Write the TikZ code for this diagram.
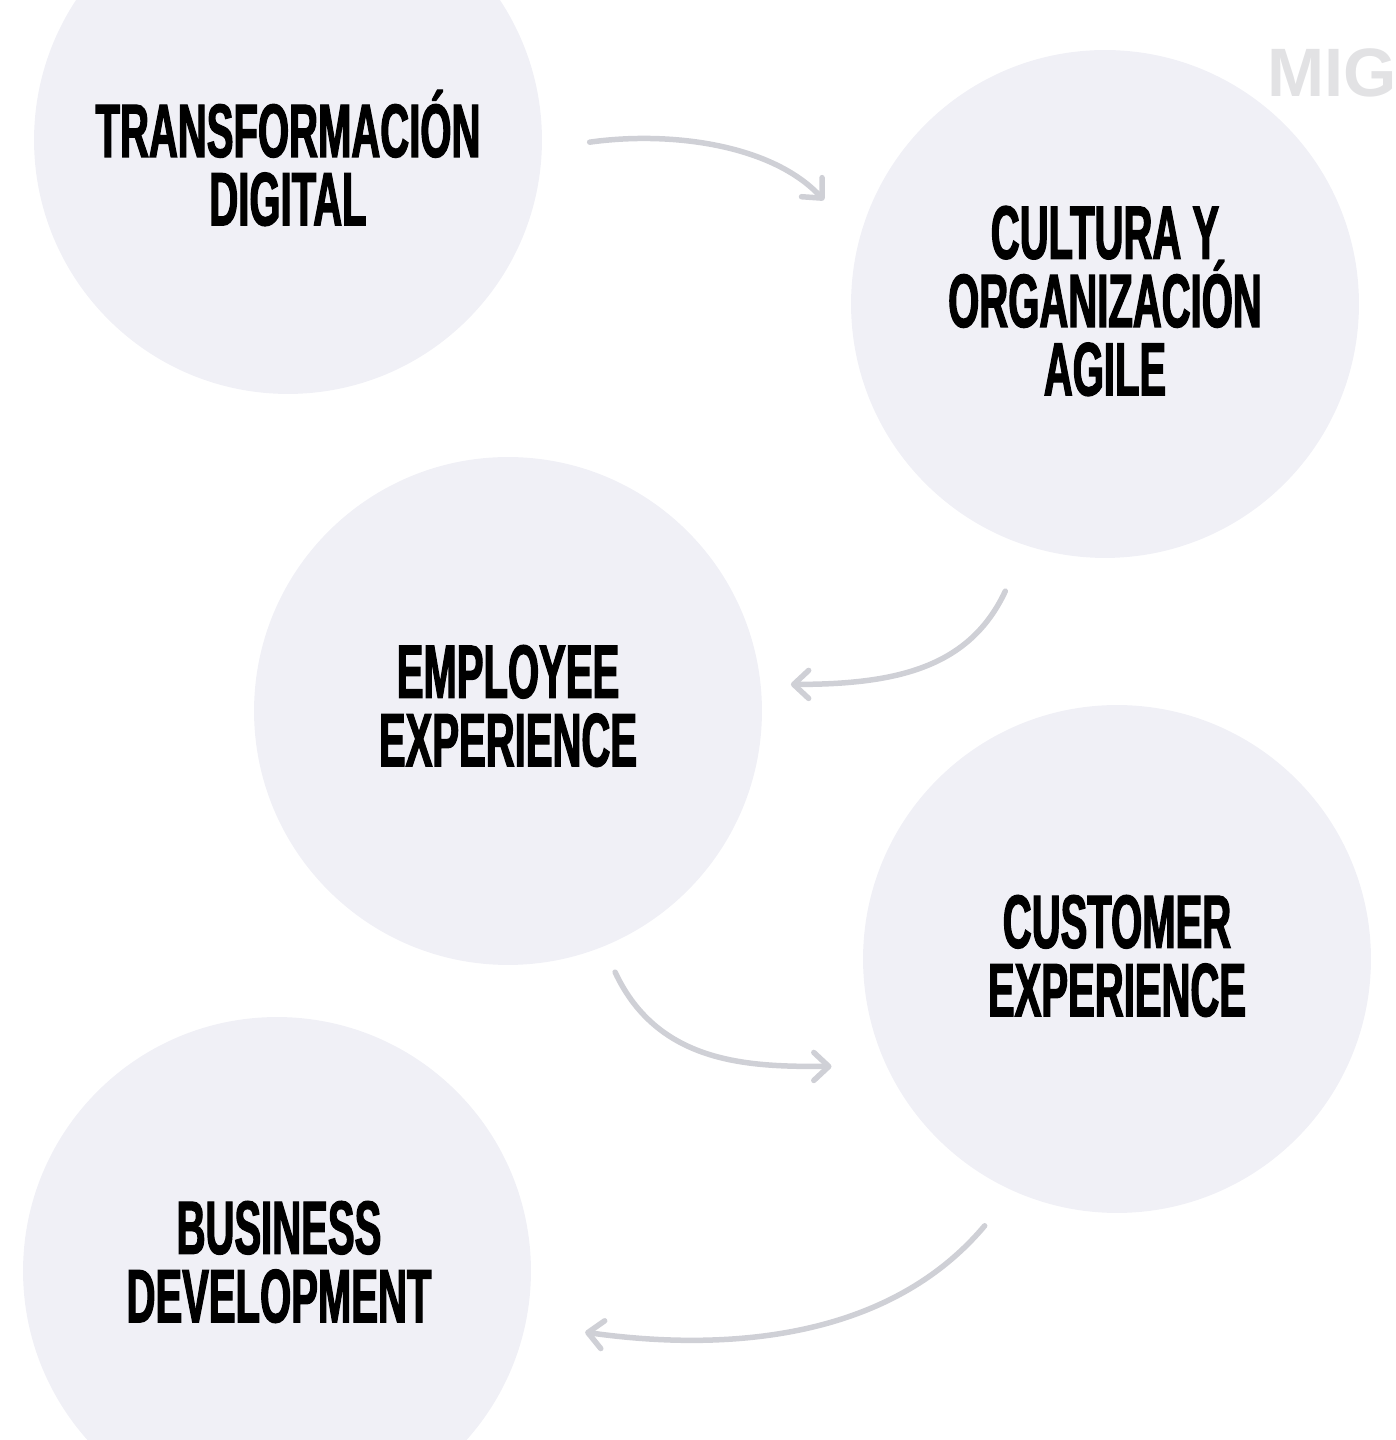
\documentclass[tikz,border=0pt]{standalone}
\usepackage{fontspec}
\usepackage{tikz}
\usetikzlibrary{arrows.meta}
\setmainfont{Liberation Sans}
\newfontfamily\titlefont[FakeStretch=0.53,FakeBold=1.6]{Liberation Sans Bold}
\newfontfamily\logofont{Liberation Sans Bold}
\definecolor{discfill}{HTML}{F0F0F6}
\definecolor{arrowgrey}{HTML}{CFD0D6}
\definecolor{logogrey}{HTML}{E2E2E4}

\begin{document}
\begin{tikzpicture}
            [x=.02cm,y=.02cm,
            disc/.style={circle,fill=discfill,minimum size=10.16cm,inner sep=0pt},
            title/.style={align=center,text=black,font=\titlefont\fontsize{43}{38.9}\selectfont},
            flow/.style={color=arrowgrey,line width=.11cm,line cap=round,-{Straight Barb[length=.3cm,width=.56cm,round]}}]
            \useasboundingbox (0,0) rectangle (1396,1440);
            \node [disc] (A) at (288,1300) {};
            \node [disc] (B) at (1105,1136) {};
            \node [disc] (C) at (508,729) {};
            \node [disc] (D) at (1117,481) {};
            \node [disc] (E) at (277,169) {};

            \node [title] (tA) at (288,1282) {TRANSFORMACIÓN\\DIGITAL};
            \node [title] (tB) at (1105,1139) {CULTURA Y\\ORGANIZACIÓN\\AGILE};
            \node [title] (tC) at (508,734) {EMPLOYEE\\EXPERIENCE};
            \node [title] (tD) at (1117,484) {CUSTOMER\\EXPERIENCE};
            \node [title] (tE) at (279,178) {BUSINESS\\DEVELOPMENT};
            \node [text=logogrey,font=\logofont\fontsize{39}{39}\selectfont,anchor=west,inner sep=0pt] (logo) at (1267,1367) {MIG};

            \path [flow] (A.-2) edge [out=8,in=133,shorten <=.96cm,shorten >=1.04cm] (B.165);
            \path [flow] (B.252) edge [out=245,in=0,looseness=1.15,shorten <=1cm,shorten >=.6cm] (C.6);
            \path [flow] (C.292) edge [out=-65,in=180,looseness=1.1,shorten <=.56cm,shorten >=1.1cm] (D.205);
            \path [flow] (D.246) edge [out=230,in=-8,shorten <=.9cm,shorten >=1.2cm] (E.-12);
        \end{tikzpicture}
\end{document}
